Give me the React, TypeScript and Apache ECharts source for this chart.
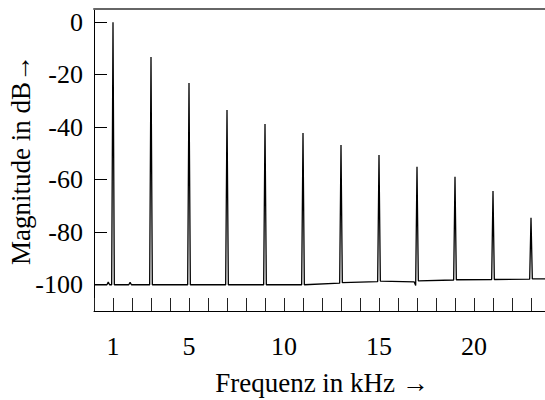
import React, { useEffect, useRef } from "react";
import * as echarts from "echarts";

// Spectrum trace (frequency in kHz, magnitude in dB)
const spectrumFreqKHz = [
  0, 0.68, 0.75, 0.82, 0.93, 1.0, 1.07,
  1.83, 1.9, 1.97, 2.93, 3.0, 3.07,
  4.93, 5.0, 5.07, 6.93, 7.0, 7.07,
  8.93, 9.0, 9.07, 10.93, 11.0, 11.07,
  12.93, 13.0, 13.07, 14.93, 15.0, 15.07,
  16.85, 16.93, 17.0, 17.07, 18.93, 19.0, 19.07,
  20.93, 21.0, 21.07, 22.93, 23.0, 23.07, 24,
];
const spectrumDb = [
  -100, -100, -99, -100, -100, 0, -100,
  -100, -99.1, -100, -100, -13.3, -100,
  -100, -23.2, -100, -100, -33.5, -100,
  -100, -38.8, -100, -100, -42.2, -100,
  -99.4, -46.8, -99.2, -98.8, -50.6, -98.6,
  -98.9, -100.3, -55.1, -98.5, -98.2, -58.9, -98.1,
  -98.0, -64.3, -98.0, -97.9, -74.5, -97.8, -97.8,
];
const yTickValues = [0, -20, -40, -60, -80, -100];
const xLabelValues = [1, 5, 10, 15, 20];

const FONT = "Liberation Serif";

export default function App() {
  const ref = useRef<HTMLDivElement>(null);
  useEffect(() => {
    const chart = echarts.init(ref.current!, null, { renderer: "svg" });
    const data = spectrumFreqKHz.map((f, i) => [f, spectrumDb[i]]);
    const labelTxt = { fontFamily: FONT, fontSize: 26, color: "#000" };
    const nameTxt = { fontFamily: FONT, fontSize: 27, color: "#000" };
    chart.setOption({
      animation: false,
      grid: {
        left: 94,
        top: 9,
        right: -5,
        bottom: 89,
        containLabel: false,
        outerBoundsMode: "none",
      },
      xAxis: [
        {
          type: "value",
          position: "bottom",
          min: 0,
          max: 24,
          interval: 1,
          name: "Frequenz in kHz →",
          nameLocation: "middle",
          nameGap: 58,
          nameMoveOverlap: false,
          nameTextStyle: nameTxt,
          axisLine: { show: true, onZero: false, lineStyle: { color: "#000", width: 1 } },
          axisTick: { show: true, inside: true, length: 13, lineStyle: { color: "#222", width: 1 } },
          axisLabel: {
            show: true,
            customValues: xLabelValues,
            margin: 22,
            ...labelTxt,
          },
          splitLine: { show: false },
        },
        {
          type: "value",
          position: "top",
          min: 0,
          max: 24,
          axisLine: { show: true, onZero: false, lineStyle: { color: "#666", width: 2 } },
          axisTick: { show: false },
          axisLabel: { show: false },
          splitLine: { show: false },
        },
      ],
      yAxis: {
        type: "value",
        min: -110,
        max: 5,
        name: "Magnitude in dB→",
        nameLocation: "middle",
        nameRotate: 90,
        nameGap: 60,
        nameMoveOverlap: false,
        nameTextStyle: nameTxt,
        axisLine: { show: true, onZero: false, lineStyle: { color: "#000", width: 1 } },
        axisTick: { show: true, inside: true, length: 13, customValues: yTickValues, lineStyle: { color: "#000", width: 1 } },
        axisLabel: {
          show: true,
          customValues: yTickValues,
          margin: 11,
          ...labelTxt,
        },
        splitLine: { show: false },
      },
      series: [
        {
          type: "line",
          xAxisIndex: 0,
          data,
          showSymbol: false,
          symbol: "none",
          lineStyle: { color: "#000", width: 1.3 },
        },
      ],
    });
    return () => chart.dispose();
  }, []);
  return (
    <div
      ref={ref}
      style={{ position: "absolute", left: 0, top: 0, width: 545, height: 400 }}
    />
  );
}
